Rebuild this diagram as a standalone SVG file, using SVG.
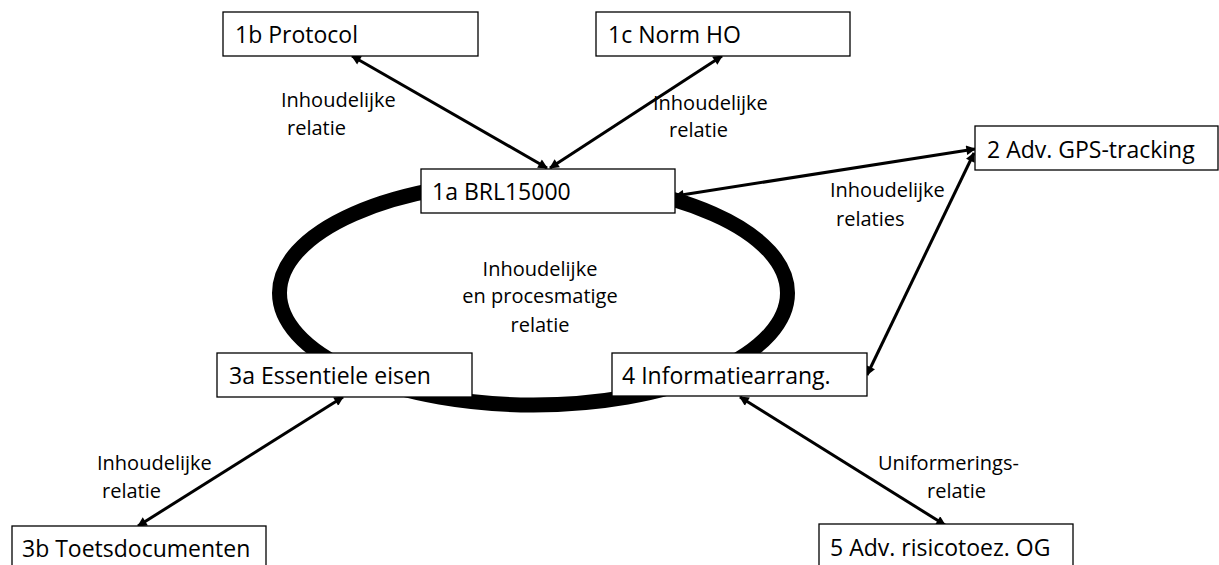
<svg xmlns="http://www.w3.org/2000/svg" width="1219" height="565" viewBox="0 0 1219 565">
<style>
.box{fill:#fff;stroke:#000;stroke-width:1.3}
.nt{font-family:"Open Sans","Liberation Sans",sans-serif;font-size:23px;fill:#000}
.lt{font-family:"Open Sans","Liberation Sans",sans-serif;font-size:20px;fill:#000}
.con{stroke:#000;stroke-width:3;fill:none;marker-start:url(#ah);marker-end:url(#ah)}
</style>
<defs>
<marker id="ah" viewBox="0 0 10 10" refX="9" refY="5" markerWidth="4" markerHeight="3.2" orient="auto-start-reverse" markerUnits="strokeWidth">
<path d="M0,0 L10,5 L0,10 z" fill="#000"/>
</marker>
</defs>
<rect width="1219" height="565" fill="#fff"/>
<g id="cycle">
<ellipse cx="533.5" cy="293" rx="254" ry="112" fill="none" stroke="#000" stroke-width="15"/>
<text class="lt" x="540" y="276" text-anchor="middle">Inhoudelijke</text>
<text class="lt" x="540" y="303" text-anchor="middle">en procesmatige</text>
<text class="lt" x="540" y="332" text-anchor="middle">relatie</text>
</g>
<g id="connectors">
<line class="con" x1="352" y1="56" x2="547" y2="168"/>
<line class="con" x1="722" y1="56" x2="550" y2="168"/>
<line class="con" x1="675" y1="196" x2="975" y2="149"/>
<line class="con" x1="974" y1="153" x2="867" y2="375"/>
<line class="con" x1="343" y1="397" x2="138" y2="526"/>
<line class="con" x1="740" y1="397" x2="945" y2="525"/>
<text class="lt" x="281" y="107">Inhoudelijke</text>
<text class="lt" x="287" y="135">relatie</text>
<text class="lt" x="653" y="110">Inhoudelijke</text>
<text class="lt" x="669" y="137">relatie</text>
<text class="lt" x="830" y="197">Inhoudelijke</text>
<text class="lt" x="836" y="226">relaties</text>
<text class="lt" x="97" y="470">Inhoudelijke</text>
<text class="lt" x="102" y="498">relatie</text>
<text class="lt" x="878" y="470">Uniformerings-</text>
<text class="lt" x="927" y="498">relatie</text>
</g>
<g id="n1b"><rect class="box" x="223" y="12" width="255" height="44"/><text class="nt" x="235" y="43">1b Protocol</text></g>
<g id="n1c"><rect class="box" x="596" y="12" width="254" height="44"/><text class="nt" x="608" y="43">1c Norm HO</text></g>
<g id="n1a"><rect class="box" x="421" y="169" width="254" height="44"/><text class="nt" x="432" y="200">1a BRL15000</text></g>
<g id="n2"><rect class="box" x="975" y="126" width="243" height="44"/><text class="nt" x="987" y="158">2 Adv. GPS-tracking</text></g>
<g id="n3a"><rect class="box" x="217" y="353" width="255" height="44"/><text class="nt" x="229" y="384">3a Essentiele eisen</text></g>
<g id="n4"><rect class="box" x="612" y="353" width="255" height="43"/><text class="nt" x="622" y="384">4 Informatiearrang.</text></g>
<g id="n3b"><rect class="box" x="12" y="526" width="254" height="50"/><text class="nt" x="22" y="557">3b Toetsdocumenten</text></g>
<g id="n5"><rect class="box" x="819" y="524" width="254" height="50"/><text class="nt" x="830" y="556">5 Adv. risicotoez. OG</text></g>
</svg>
